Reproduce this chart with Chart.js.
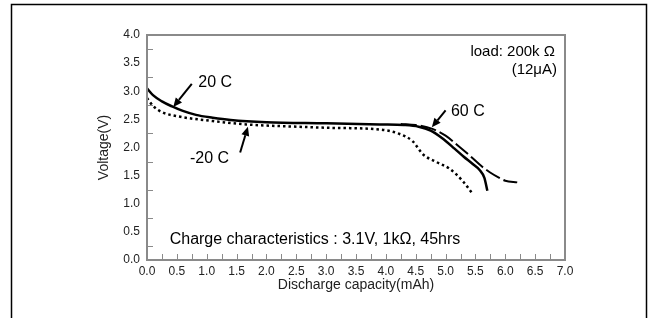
<!DOCTYPE html>
<html>
<head>
<meta charset="utf-8">
<script src="https://cdn.jsdelivr.net/npm/chart.js@4.4.1/dist/chart.umd.min.js"></script>
<style>
html,body{margin:0;padding:0;background:#fff;}
canvas{display:block;}
</style>
</head>
<body>
<canvas id="c" width="657" height="318"></canvas>
<script>
// ---- data ----
const xTickLabels = ["0.0","0.5","1.0","1.5","2.0","2.5","3.0","3.5","4.0","4.5","5.0","5.5","6.0","6.5","7.0"];
const yTickLabels = ["0.0","0.5","1.0","1.5","2.0","2.5","3.0","3.5","4.0"];

const cap20 = [0.00, 0.10, 0.25, 0.42, 0.60, 0.82, 1.10, 1.40, 2.00, 3.00, 3.90, 4.30, 4.55, 4.75, 4.95, 5.15, 5.30, 5.45, 5.57, 5.65, 5.70];
const volt20 = [3.05, 2.93, 2.82, 2.73, 2.65, 2.58, 2.53, 2.49, 2.45, 2.43, 2.41, 2.40, 2.37, 2.30, 2.16, 1.98, 1.84, 1.71, 1.60, 1.46, 1.23];

const capM20 = [0.00, 0.10, 0.25, 0.54, 1.10, 1.66, 2.50, 3.05, 3.90, 4.23, 4.45, 4.62, 4.85, 5.07, 5.29, 5.45];
const voltM20 = [2.88, 2.74, 2.63, 2.55, 2.47, 2.41, 2.37, 2.35, 2.32, 2.24, 2.11, 1.88, 1.74, 1.62, 1.40, 1.18];

const cap60 = [4.25, 4.50, 4.78, 5.00, 5.20, 5.40, 5.60, 5.74, 5.90, 6.00, 6.20];
const volt60 = [2.42, 2.40, 2.33, 2.21, 2.04, 1.86, 1.67, 1.56, 1.46, 1.41, 1.38];

const annotations = [
  {text:"20 C",  tx:0.86, ty:3.16, ax0:0.75, ay0:3.13, ax1:0.44, ay1:2.72},
  {text:"-20 C", tx:0.72, ty:1.81, ax0:1.56, ay0:1.91, ax1:1.69, ay1:2.37},
  {text:"60 C",  tx:5.09, ty:2.64, ax0:5.00, ay0:2.66, ax1:4.77, ay1:2.36}
];
const loadText = ["load: 200k \u03A9", "(12\u03BCA)"];
const chargeText = "Charge characteristics : 3.1V, 1k\u03A9, 45hrs";
const xTitle = "Discharge capacity(mAh)";
const yTitle = "Voltage(V)";

function pts(xs, ys){ return xs.map((x,i)=>({x:x, y:ys[i]})); }

const FONT = "'Liberation Sans', Arial, sans-serif";

const decor = {
  id:'decor',
  beforeDraw(chart){
    const ctx = chart.ctx;
    ctx.save();
    ctx.fillStyle = '#fff';
    ctx.fillRect(0,0,chart.width,chart.height);
    ctx.strokeStyle = '#000';
    ctx.lineWidth = 1.5;
    ctx.strokeRect(11.5, 4.5, 635, 340);
    ctx.restore();
  },
  afterDatasetsDraw(chart){
    const ctx = chart.ctx;
    const xs = chart.scales.x, ys = chart.scales.y;
    const a = chart.chartArea;
    ctx.save();
    // inner ticks
    ctx.strokeStyle = '#8a8a8a';
    ctx.lineWidth = 1;
    for (let v = 0.25; v < 7; v += 0.25){
      const px = Math.round(xs.getPixelForValue(v)) + 0.5;
      ctx.beginPath(); ctx.moveTo(px, a.bottom); ctx.lineTo(px, a.bottom - 6); ctx.stroke();
    }
    for (let v = 0.25; v < 4; v += 0.5){
      const py = Math.round(ys.getPixelForValue(v)) + 0.5;
      ctx.beginPath(); ctx.moveTo(a.left, py); ctx.lineTo(a.left + 6, py); ctx.stroke();
    }
    // plot frame
    ctx.strokeStyle = '#8a8a8a';
    ctx.lineWidth = 2;
    ctx.strokeRect(a.left, a.top, a.right - a.left, a.bottom - a.top);

    // annotations
    ctx.fillStyle = '#000';
    ctx.strokeStyle = '#000';
    ctx.font = "16px " + FONT;
    ctx.textBaseline = 'middle';
    ctx.textAlign = 'left';
    annotations.forEach(n=>{
      ctx.fillText(n.text, xs.getPixelForValue(n.tx), ys.getPixelForValue(n.ty));
      const x0 = xs.getPixelForValue(n.ax0), y0 = ys.getPixelForValue(n.ay0);
      const x1 = xs.getPixelForValue(n.ax1), y1 = ys.getPixelForValue(n.ay1);
      const ang = Math.atan2(y1-y0, x1-x0);
      const hl = 9, hw = 4;
      const bx = x1 - hl*Math.cos(ang), by = y1 - hl*Math.sin(ang);
      ctx.lineWidth = 2;
      ctx.beginPath(); ctx.moveTo(x0,y0); ctx.lineTo(bx,by); ctx.stroke();
      ctx.beginPath();
      ctx.moveTo(x1,y1);
      ctx.lineTo(bx + hw*Math.sin(ang), by - hw*Math.cos(ang));
      ctx.lineTo(bx - hw*Math.sin(ang), by + hw*Math.cos(ang));
      ctx.closePath(); ctx.fill();
    });
    ctx.font = "15px " + FONT;
    ctx.textAlign = 'right';
    ctx.fillText(loadText[0], a.right - 10, a.top + 17);
    ctx.fillText(loadText[1], a.right - 8, a.top + 35);
    ctx.font = "16px " + FONT;
    ctx.textAlign = 'left';
    ctx.fillText(chargeText, xs.getPixelForValue(0.38), ys.getPixelForValue(0.37));
    ctx.restore();
  }
};

new Chart(document.getElementById('c'), {
  type:'scatter',
  data:{
    datasets:[
      {label:'20 C', data:pts(cap20, volt20), showLine:true, borderColor:'#000', borderWidth:2.5, pointRadius:0, cubicInterpolationMode:'monotone', borderCapStyle:'butt'},
      {label:'-20 C', data:pts(capM20, voltM20), showLine:true, borderColor:'#000', borderWidth:2.5, borderDash:[2.5,3], pointRadius:0, cubicInterpolationMode:'monotone', borderCapStyle:'butt'},
      {label:'60 C', data:pts(cap60, volt60), showLine:true, borderColor:'#000', borderWidth:2, borderDash:[16,4], pointRadius:0, cubicInterpolationMode:'monotone', borderCapStyle:'butt'}
    ]
  },
  options:{
    responsive:false,
    animation:false,
    devicePixelRatio:1,
    layout:{padding:{left:90, right:92, top:35, bottom:0}},
    plugins:{legend:{display:false}, tooltip:{enabled:false}},
    scales:{
      x:{
        type:'linear', min:0, max:7,
        afterFit(s){ s.height = 58; },
        afterBuildTicks(s){ s.ticks = xTickLabels.map(t=>({value:parseFloat(t)})); },
        ticks:{callback:(v,i)=>xTickLabels[i], color:'#222', font:{family:FONT, size:12}, padding:4, maxRotation:0, autoSkip:false},
        grid:{display:false, drawTicks:false},
        border:{display:false},
        title:{display:true, text:xTitle, color:'#222', font:{family:FONT, size:14}, padding:{top:0, bottom:24}}
      },
      y:{
        type:'linear', min:0, max:4,
        afterFit(s){ s.width = 57; },
        afterBuildTicks(s){ s.ticks = yTickLabels.map(t=>({value:parseFloat(t)})); },
        ticks:{callback:(v,i)=>yTickLabels[i], color:'#222', font:{family:FONT, size:12}, padding:7, autoSkip:false},
        grid:{display:false, drawTicks:false},
        border:{display:false},
        title:{display:true, text:yTitle, color:'#222', font:{family:FONT, size:14}, padding:{top:6, bottom:0}}
      }
    }
  },
  plugins:[decor]
});
</script>
</body>
</html>
